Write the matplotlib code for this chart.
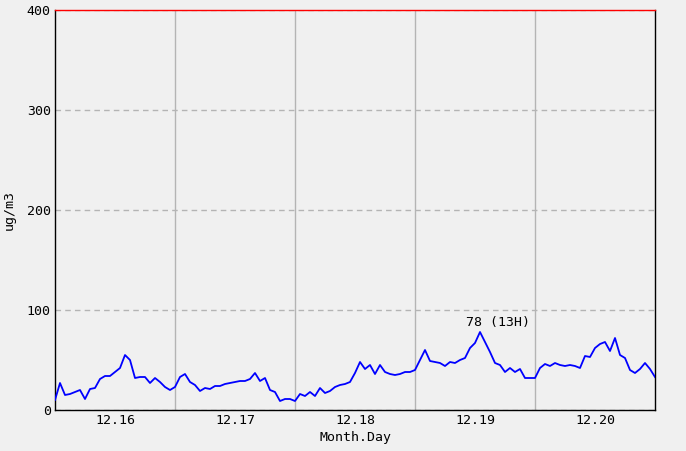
"""Hourly ug/m3 trace over five days, 12.16 - 12.20."""
import matplotlib
matplotlib.use('Agg')
import matplotlib.pyplot as plt

# hourly readings, 12.16 00H .. 12.21 00H
day_labels = ['12.16', '12.17', '12.18', '12.19', '12.20']
day16 = [10, 27, 15, 16, 18, 20, 11, 21, 22, 31, 34, 34, 38, 42, 55, 50,
         32, 33, 33, 27, 32, 28, 23, 20]
day17 = [23, 33, 36, 28, 25, 19, 22, 21, 24, 24, 26, 27, 28, 29, 29, 31,
         37, 29, 32, 20, 18, 9, 11, 11]
day18 = [9, 16, 14, 18, 14, 22, 17, 19, 23, 25, 26, 28, 37, 48, 41, 45,
         36, 45, 38, 36, 35, 36, 38, 38]
day19 = [40, 50, 60, 49, 48, 47, 44, 48, 47, 50, 52, 62, 67, 78, 68, 58,
         47, 45, 38, 42, 38, 41, 32, 32]
day20 = [32, 42, 46, 44, 47, 45, 44, 45, 44, 42, 54, 53, 62, 66, 68, 59,
         72, 55, 52, 40, 37, 41, 47, 41, 33]

BG = '#f0f0f0'
GRID = '#b4b4b4'

values = day16 + day17 + day18 + day19 + day20
hours = list(range(len(values)))

plt.rcParams['font.family'] = ['DejaVu Sans Mono']
plt.rcParams['font.size'] = 9

fig = plt.figure(figsize=(6.86, 4.51), dpi=100)
fig.patch.set_facecolor(BG)
ax = fig.add_axes([55 / 686, 41 / 451, 600 / 686, 400 / 451])
ax.set_facecolor(BG)

for d in range(1, len(day_labels)):
    ax.axvline(d * 24, color=GRID, linewidth=1.0, zorder=1)
ax.plot(hours, values, color='#0000ff', linewidth=1.3, zorder=3)

peak = max(values)
ip = values.index(peak)
ax.annotate(f'{peak} ({ip % 24}H)', xy=(ip, peak), xytext=(-14, 3),
            textcoords='offset pixels', ha='left', va='bottom', fontsize=9.5)

ax.set_xlim(0, 24 * len(day_labels))
ax.set_ylim(0, 400)
ax.set_yticks([0, 100, 200, 300, 400])
ax.set_xticks([24 * i + 12 for i in range(len(day_labels))])
ax.set_xticklabels(day_labels)
ax.tick_params(length=0, pad=3, labelsize=9.5)
ax.grid(axis='y', color=GRID, linestyle=(0, (4, 3)), linewidth=1.0)
ax.set_axisbelow(True)

for s in ('left', 'bottom', 'right'):
    ax.spines[s].set_color('black')
    ax.spines[s].set_linewidth(1.0)
ax.spines['top'].set_color('red')
ax.spines['top'].set_linewidth(1.0)

ax.set_xlabel('Month.Day', labelpad=3, fontsize=9.5)
ax.set_ylabel('ug/m3', labelpad=8, fontsize=9.5)

fig.savefig('out.png', facecolor=BG)
